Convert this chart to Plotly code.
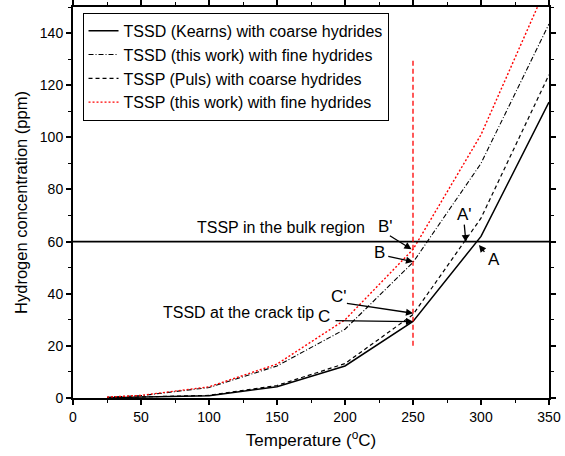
import plotly.graph_objects as go

# ---- data ----
temperature = [25, 50, 100, 150, 200, 250, 300, 350]
tssd_kearns_coarse = [0.1, 0.3, 0.9, 4.3, 12.3, 29.4, 62.0, 113.5]
tssd_thiswork_fine = [0.3, 0.9, 4.0, 12.3, 26.4, 52.0, 90.0, 143.5]
tssp_puls_coarse = [0.1, 0.35, 1.0, 4.8, 13.2, 32.0, 69.0, 124.0]
tssp_thiswork_fine = [0.35, 1.0, 4.3, 13.0, 30.0, 57.0, 101.0, 160.0]

series_names = [
    "TSSD (Kearns) with coarse hydrides",
    "TSSD (this work) with fine hydrides",
    "TSSP (Puls) with coarse hydrides",
    "TSSP (this work) with fine hydrides",
]

bulk_tssp_level = 60          # horizontal reference line (ppm)
crack_tip_temperature = 250   # vertical reference line (deg C)
crack_line_span = [20, 130]   # ppm extent of the vertical line

x_ticks = [0, 50, 100, 150, 200, 250, 300, 350]
y_ticks = [0, 20, 40, 60, 80, 100, 120, 140]

FONT = "Arial, Liberation Sans, sans-serif"

fig = go.Figure()
styles = [
    dict(color="black", width=1.5, dash="solid"),
    dict(color="black", width=1.1, dash="5px,2px,1px,2px"),
    dict(color="black", width=1.2, dash="4px,3px"),
    dict(color="red", width=1.4, dash="2px,2px"),
]
for name, ys, st in zip(series_names,
                        [tssd_kearns_coarse, tssd_thiswork_fine, tssp_puls_coarse, tssp_thiswork_fine],
                        styles):
    fig.add_trace(go.Scatter(x=temperature, y=ys, mode="lines", name=name, line=st))

# reference lines
fig.add_shape(type="line", xref="x", yref="y", x0=0, x1=350,
              y0=bulk_tssp_level, y1=bulk_tssp_level, line=dict(color="black", width=1.6))
fig.add_shape(type="line", xref="x", yref="y", x0=crack_tip_temperature, x1=crack_tip_temperature,
              y0=crack_line_span[0], y1=crack_line_span[1],
              line=dict(color="red", width=1.3, dash="5px,3px"))

ann_font = dict(family=FONT, size=16, color="black")
letter_font = dict(family=FONT, size=17, color="black")

texts = [
    ("TSSP in the bulk region", 152.8, 65.6, ann_font),
    ("TSSD at the crack tip", 121.5, 32.9, ann_font),
    ("B'", 229.9, 65.8, letter_font),
    ("B", 225.6, 56.0, letter_font),
    ("C'", 195.5, 39.0, letter_font),
    ("C", 184.6, 31.2, letter_font),
    ("A'", 287.6, 70.3, letter_font),
    ("A", 309.5, 53.0, letter_font),
]
for t, x, y, f in texts:
    fig.add_annotation(x=x, y=y, xref="x", yref="y", text=t, showarrow=False, font=f,
                       xanchor="center", yanchor="middle")

arrows = [
    (248.9, 57.1, 231.9, 62.6),
    (250.1, 52.3, 230.7, 54.5),
    (250.1, 32.5, 200.3, 36.4),
    (250.1, 29.3, 191.9, 29.7),
    (288.9, 59.8, 287.6, 67.1),
    (298.5, 58.7, 303.4, 55.5),
]
for hx, hy, tx, ty in arrows:
    fig.add_annotation(x=hx, y=hy, ax=tx, ay=ty, xref="x", yref="y", axref="x", ayref="y",
                       text="", showarrow=True, arrowhead=2, arrowsize=1.1, arrowwidth=1.3,
                       arrowcolor="black", standoff=0, startstandoff=0)

axis_common = dict(
    showline=True, linecolor="black", linewidth=2, mirror="ticks", showgrid=False, zeroline=False,
    ticks="outside", ticklen=5, tickwidth=1.5, tickcolor="black", automargin=False,
    ticklabeloverflow="allow",
    tickfont=dict(family=FONT, size=14, color="black"),
)

fig.update_layout(
    width=565, height=456,
    margin=dict(l=73, r=16, t=7, b=58),
    paper_bgcolor="white", plot_bgcolor="white",
    font=dict(family=FONT, color="black"),
    xaxis=dict(range=[0, 350], tickvals=x_ticks, ticktext=[str(v) for v in x_ticks],
               title=dict(text="Temperature (<sup>o</sup>C)", font=dict(family=FONT, size=17), standoff=10),
               minor=dict(dtick=25, tick0=0, ticks="outside", ticklen=3, tickwidth=1.2, tickcolor="black"),
               **axis_common),
    yaxis=dict(range=[0, 150], tickvals=y_ticks, ticktext=[str(v) for v in y_ticks],
               title=dict(text="Hydrogen concentration (ppm)", font=dict(family=FONT, size=16.5), standoff=8),
               minor=dict(dtick=10, tick0=0, ticks="outside", ticklen=3, tickwidth=1.2, tickcolor="black"),
               **axis_common),
    legend=dict(x=0.02, y=0.985, xanchor="left", yanchor="top",
                bordercolor="black", borderwidth=1, bgcolor="white",
                font=dict(family=FONT, size=16, color="black"),
                tracegroupgap=0, itemwidth=30),
    showlegend=True,
)

fig.write_html("out.html")
